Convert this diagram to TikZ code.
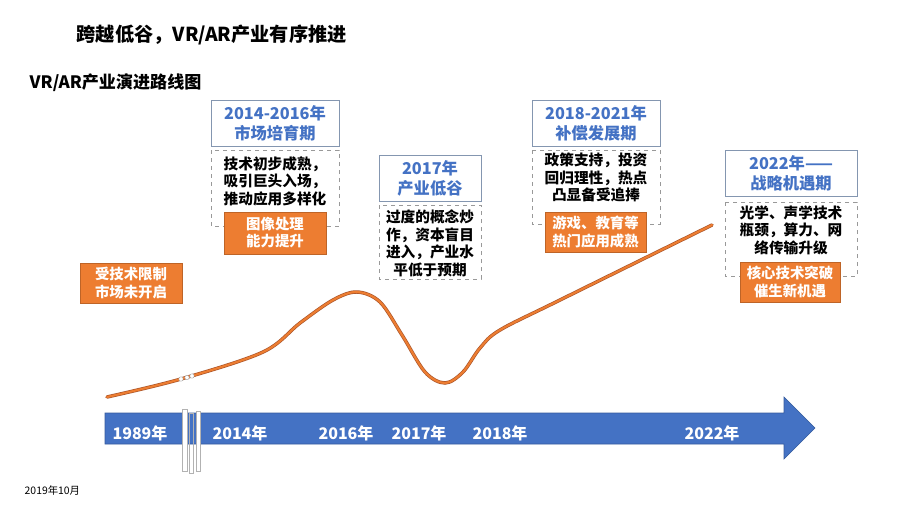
\documentclass[tikz,border=0pt]{standalone}
\usepackage{fontspec}
\setmainfont{Noto Sans CJK SC}

\definecolor{tlblue}{HTML}{4472C4}
\definecolor{tlorange}{HTML}{ED7D31}
\definecolor{tlbrown}{HTML}{A9542A}
\definecolor{boxline}{HTML}{8496B0}

\begin{document}
\begin{tikzpicture}[x=0.75pt, y=-0.75pt,
    titlebox/.style={draw=boxline, fill=white, text=tlblue, align=center,
        font=\bfseries\fontsize{12.2pt}{15pt}\selectfont,
        minimum height=34.5pt, inner sep=1pt},
    dashbox/.style={draw=gray!80, dashed, line width=0.6pt},
    bodytext/.style={align=center, font=\bfseries\fontsize{11pt}{13.2pt}\selectfont},
    orangebox/.style={fill=tlorange, draw=tlorange!80!black, line width=0.3pt,
        text=white, align=center, minimum height=30pt, inner sep=1pt,
        font=\bfseries\fontsize{10.8pt}{12.8pt}\selectfont},
    yearlabel/.style={text=white, font=\bfseries\fontsize{12pt}{14pt}\selectfont}]
    \useasboundingbox (0,0) rectangle (920,518);

    % 标题
    \node[anchor=west, font=\bfseries\fontsize{14.4pt}{17pt}\selectfont] (title) at (72,35) {跨越低谷，VR/AR产业有序推进};
    \node[anchor=west, font=\bfseries\fontsize{12.8pt}{15pt}\selectfont] (subtitle) at (25,83) {VR/AR产业演进路线图};

    % 时间轴箭头
    \fill[tlblue, draw=tlblue!80!black, line width=0.4pt]
        (105,413) -- (784,413) -- (784,397) -- (815,428) -- (784,459) -- (784,444) -- (105,444) -- cycle;

    % 断裂标记
    \draw[fill=white, draw=gray!60, line width=0.4pt] (182,409) rectangle (187,471);
    \draw[draw=gray!60, line width=0.3pt] (189,413) rectangle (193,473);
    \draw[fill=white, draw=gray!60, line width=0.4pt] (196,411) rectangle (200,471);

    % 年份
    \node[yearlabel] (y1989) at (140,433) {1989年};
    \node[yearlabel] (y2014) at (240,433) {2014年};
    \node[yearlabel] (y2016) at (346,433) {2016年};
    \node[yearlabel] (y2017) at (419,433) {2017年};
    \node[yearlabel] (y2018) at (500,433) {2018年};
    \node[yearlabel] (y2022) at (712,433) {2022年};

    % 发展曲线
    \draw[tlbrown, line width=2.6pt, line cap=round] plot[smooth, tension=0.55] coordinates
        {(107,397) (181,379) (263,352) (300,323) (333,300) (357,292) (380,302) (402,335) (425,372) (445,383) (463,372) (480,348) (500,330) (560,300) (712,225)};
    \draw[tlorange, line width=1.6pt, line cap=round] plot[smooth, tension=0.55] coordinates
        {(107,397) (181,379) (263,352) (300,323) (333,300) (357,292) (380,302) (402,335) (425,372) (445,383) (463,372) (480,348) (500,330) (560,300) (712,225)};
    \foreach \p in {(181,379), (187,377.5), (192,376)}
        \filldraw[fill=white, draw=gray!70, line width=0.3pt] \p circle[radius=2.2];

    % 1989年以前
    \node[orangebox, minimum width=76.5pt] (limit) at (131,283) {受技术限制\\市场未开启};

    % 2014-2016年
    \draw[dashbox] (211,150) rectangle (339,226);
    \node[titlebox, minimum width=96pt] (t1) at (275,123) {2014-2016年\\市场培育期};
    \node[bodytext] (d1) at (275,181) {技术初步成熟，\\吸引巨头入场，\\推动应用多样化};
    \node[orangebox, minimum width=76.5pt, minimum height=31.5pt] (o1) at (275,233) {图像处理\\能力提升};

    % 2017年
    \draw[dashbox] (379,205) rectangle (481,279);
    \node[titlebox, minimum width=76.5pt] (t2) at (430,178) {2017年\\产业低谷};
    \node[bodytext] (d2) at (430,243.5) {过度的概念炒\\作，资本盲目\\进入，产业水\\平低于预期};

    % 2018-2021年
    \draw[dashbox] (532,150) rectangle (660,224);
    \node[titlebox, minimum width=96pt] (t3) at (596,123) {2018-2021年\\补偿发展期};
    \node[bodytext] (d3) at (596,177.5) {政策支持，投资\\回归理性，热点\\凸显备受追捧};
    \node[orangebox, minimum width=75.75pt] (o3) at (595.5,232) {游戏、教育等\\热门应用成熟};

    % 2022年
    \draw[dashbox] (725,202) rectangle (857,276);
    \node[titlebox, minimum width=99pt] (t4) at (791,173) {2022年——\\战略机遇期};
    \node[bodytext] (d4) at (791,230) {光学、声学技术\\瓶颈，算力、网\\络传输升级};
    \node[orangebox, minimum width=75pt] (o4) at (790,282) {核心技术突破\\催生新机遇};

    % 日期
    \node[anchor=west, font=\fontsize{7.8pt}{9pt}\selectfont] (date) at (20,491) {2019年10月};
\end{tikzpicture}
\end{document}
